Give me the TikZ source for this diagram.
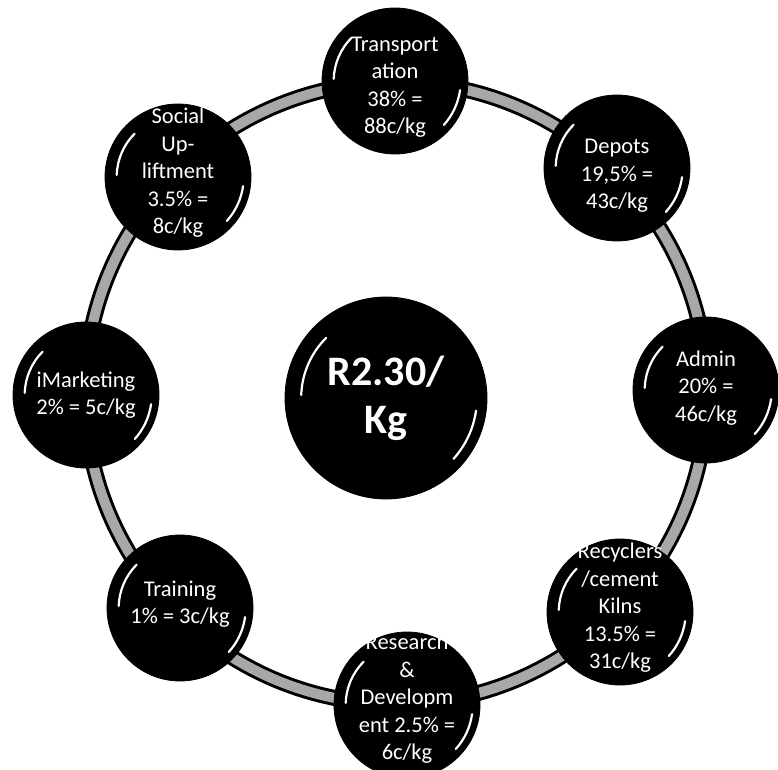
\documentclass[tikz,border=0pt]{standalone}
\usepackage{fontspec}
\setmainfont{Carlito}
\usepackage{tikz}
\usetikzlibrary{calc}
\definecolor{rgink}{HTML}{000000}
\definecolor{rgband}{HTML}{A8A8A8}
\tikzset{
  ball/.style={circle,fill=rgink,draw=rgink,line width=0.8pt,minimum size=#1,inner sep=0pt,
               path picture={
                 \draw[gloss] ($(path picture bounding box.center)+(135:0.42*#1)$)
                   arc[start angle=135,end angle=178,radius=0.42*#1];
                 \draw[gloss] ($(path picture bounding box.center)+(-8:0.45*#1)$)
                   arc[start angle=-8,end angle=-42,radius=0.45*#1];}},
  ball/.default=146pt,
  gloss/.style={draw=white,line width=2.2pt,line cap=round},
  lbl/.style={align=center,text=white,font=\fontsize{22.5}{27.5}\selectfont},
  corelbl/.style={align=center,text=white,font=\fontsize{42}{48}\selectfont\bfseries},
  ringedge/.style={draw=rgink,line width=16pt},
  ringfill/.style={draw=rgband,line width=10pt},
}
\begin{document}
\begin{tikzpicture}[x=1pt,y=1pt]
\useasboundingbox (0,0) rectangle (778,769);
\coordinate (hub) at (396,376);
% the band that links the cost items
\draw[ringedge] (hub) circle[radius=311];
\draw[ringfill] (hub) circle[radius=311];
\node[ball=202pt] (core) at (386,371) {};
\node[corelbl] (core-t) at (core) {R2.30/\\Kg};
\node[ball] (trans)  at (395,688) {};
\node[ball] (depots) at (617,601) {};
\node[ball] (admin)  at (706,379) {};
\node[ball] (recyc)  at (620,157) {};
\node[ball] (rnd)    at (407,64)  {};
\node[ball] (train)  at (180,161) {};
\node[ball] (market) at (86,374)  {};
\node[ball] (social) at (178,592) {};
\node[lbl] (trans-t)  at ([yshift=-6pt]trans)  {Transport\\ation\\38\% =\\88c/kg};
\node[lbl] (depots-t) at ([yshift=-8pt]depots) {Depots\\19,5\% =\\43c/kg};
\node[lbl] (admin-t)  at ([yshift=2pt]admin)   {Admin\\20\% =\\46c/kg};
\node[lbl] (recyc-t)  at ([yshift=4pt]recyc)   {Recyclers\\/cement\\Kilns\\13.5\% =\\31c/kg};
\node[lbl] (rnd-t)    at ([yshift=6pt]rnd)     {Research\\\&\\Developm\\ent 2.5\% =\\6c/kg};
\node[lbl] (train-t)  at ([yshift=4pt]train)   {Training\\1\% = 3c/kg};
\node[lbl] (market-t) at (market)              {iMarketing\\2\% = 5c/kg};
\node[lbl] (social-t) at ([yshift=4pt]social)  {Social\\Up-\\liftment\\3.5\% =\\8c/kg};
\end{tikzpicture}
\end{document}
